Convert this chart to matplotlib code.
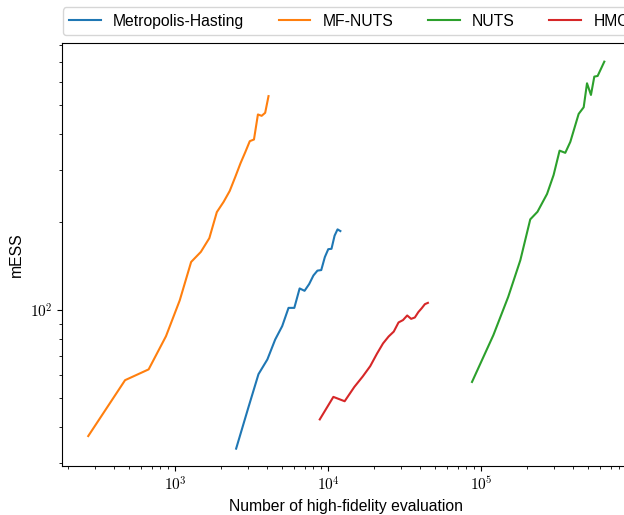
import matplotlib
matplotlib.use("Agg")
import matplotlib.pyplot as plt
import matplotlib.ticker as ticker
import numpy as np

plt.rcParams['font.family'] = ['Liberation Sans', 'DejaVu Sans']
plt.rcParams['mathtext.fontset'] = 'cm'

# cost (number of high-fidelity evaluations) and mESS for each sampler
mh_cost = [2500, 3000, 3500, 4000, 4500, 5000, 5500, 6000, 6500, 7000,
           7500, 8000, 8500, 9000, 9500, 10000, 10500, 11000, 11500, 12000]
mh_ess = [33.7, 46.4, 60.5, 67.9, 79.4, 88.2, 101.8, 101.8, 118.6, 116.4,
          122.7, 131.3, 136.4, 137.0, 151.7, 161.4, 161.9, 179.5, 188.6, 186.1]

mfnuts_cost = [270, 470, 670, 870, 1070, 1270, 1470, 1670, 1870, 2070,
               2270, 2470, 2670, 2870, 3070, 3270, 3470, 3670, 3870, 4070]
mfnuts_ess = [37.2, 57.7, 62.8, 81.5, 108, 146, 158, 176, 216, 234,
              255, 285, 317, 346, 377, 382, 465, 460, 471, 537]

nuts_cost = [87000, 120000, 150000, 180000, 209000, 233000, 269000, 297000, 325000,
             354000, 382000, 433000, 467000, 491000, 521000, 548000, 576000, 637000]
nuts_ess = [56.9, 82.2, 111, 148, 204, 216.5, 249, 289, 350,
            344, 375, 467, 492, 594, 542, 626, 629, 704]

hmc_cost = [8800, 10800, 12800, 14800, 16800, 18800, 20800, 22800, 24800, 26800,
            28800, 30800, 32800, 34800, 36800, 38800, 40800, 42800, 44800]
hmc_ess = [42.4, 50.6, 48.9, 54.7, 59.4, 64.4, 71.0, 77.0, 81.3, 84.5,
           90.8, 92.5, 95.9, 93.4, 94.4, 98.5, 101.5, 104.8, 105.9]

fig = plt.figure(figsize=(6.24, 5.15), dpi=100)
# axes run just past the right edge (the reference is cropped there)
ax = fig.add_axes([0.0994, 0.0951, 0.909, 0.8214])

ax.plot(mh_cost, mh_ess, color='C0', lw=1.5, label='Metropolis-Hasting')
ax.plot(mfnuts_cost, mfnuts_ess, color='C1', lw=1.5, label='MF-NUTS')
ax.plot(nuts_cost, nuts_ess, color='C2', lw=1.5, label='NUTS')
ax.plot(hmc_cost, hmc_ess, color='C3', lw=1.5, label='HMC')

ax.set_xscale('log')
ax.set_yscale('log')
ax.set_xlim(182, 9.27e5)
ax.set_ylim(29.4, 815)

fmt = ticker.FuncFormatter(lambda v, p: r'$10^{%d}$' % round(np.log10(v)))
ax.xaxis.set_major_formatter(fmt)
ax.yaxis.set_major_formatter(fmt)
ax.xaxis.set_minor_formatter(ticker.NullFormatter())
ax.yaxis.set_minor_formatter(ticker.NullFormatter())
ax.tick_params(axis='both', which='major', labelsize=11)

ax.set_xlabel('Number of high-fidelity evaluation', fontsize=11.3)
ax.set_ylabel('mESS', fontsize=11.3)

fig.legend(loc='lower left', bbox_to_anchor=(0.101, 0.932), ncol=4,
           fontsize=11.3, borderaxespad=0, columnspacing=2.2)

fig.savefig('out.png', dpi=100)
